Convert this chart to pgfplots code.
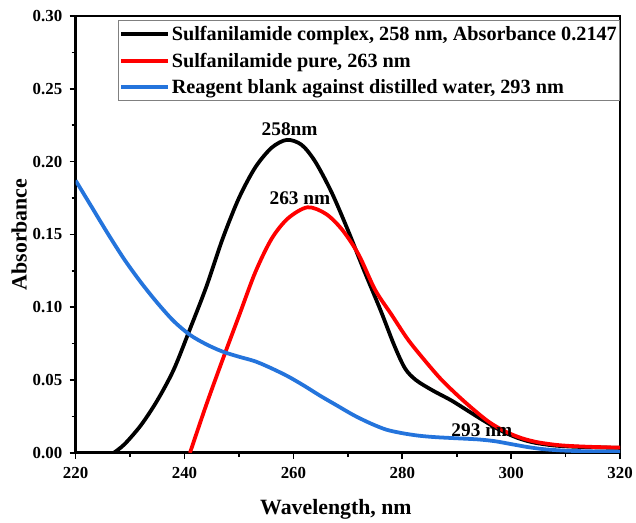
\documentclass[border=0pt]{standalone}
\usepackage{fontspec}
\setmainfont{Liberation Serif}
\usepackage{pgfplots}
\pgfplotsset{compat=1.18}
\definecolor{myblue}{RGB}{36,116,220}
\begin{document}
\begin{tikzpicture}
\begin{axis}[
  scale only axis,
  width=547bp, height=439bp,
  xmin=220, xmax=320, ymin=0, ymax=0.30,
  xtick={220,240,...,320},
  ytick={0,0.05,...,0.30},
  minor tick num=1,
  tick pos=left,
  tick align=outside,
  major tick length=6bp,
  minor tick length=4bp,
  every tick/.style={line width=1.6pt, black},
  axis line style={line width=2.8pt},
  clip=true,
  /pgf/number format/assume math mode=true,
  yticklabel style={/pgf/number format/fixed, /pgf/number format/fixed zerofill, /pgf/number format/precision=2, font=\fontsize{17}{19}\selectfont\bfseries, xshift=-4bp},
  xticklabel style={font=\fontsize{17}{19}\selectfont\bfseries, yshift=-5bp},
  scaled y ticks=false,
  xlabel={Wavelength, nm},
  ylabel={Absorbance},
  label style={font=\fontsize{22}{24}\selectfont\bfseries},
  xlabel style={yshift=-14bp, xshift=-12bp},
  ylabel style={yshift=-1bp},
  legend style={at={(0.993,0.99)}, anchor=north east, xshift=4bp, draw=gray, line width=0.8pt,
    font=\fontsize{20.4}{22}\selectfont\bfseries, legend cell align=left,
    inner xsep=1bp, inner ysep=3.5bp, row sep=7bp},
  legend image code/.code={\draw[#1, line width=3.8pt] (0bp,0bp) -- (47bp,0bp);},
]
\addplot[black, line width=3.8pt, smooth] coordinates {
(227,0) (229,0.006) (232,0.019) (235,0.036) (238,0.057) (241,0.085) (244,0.114)
(247,0.147) (250,0.175) (253,0.196) (256,0.2095) (258.8,0.2149) (261.5,0.2115)
(264,0.200) (267,0.179) (270,0.153) (273,0.125) (276,0.098) (278.5,0.074)
(280.5,0.058) (282.5,0.050) (285.5,0.043) (289,0.036) (292,0.029) (295,0.022)
(298,0.0155) (301,0.0105) (304,0.0072) (308,0.0050) (313,0.0040) (320,0.0034)
};
\addlegendentry{Sulfanilamide complex, 258 nm, Absorbance 0.2147}
\addplot[red, line width=3.8pt, smooth] coordinates {
(241,0) (244,0.033) (247,0.064) (250,0.094) (253,0.124) (256,0.147) (259,0.161)
(262.6,0.1686) (266,0.164) (269,0.153) (272,0.136) (275,0.112) (278,0.095)
(281,0.078) (284,0.064) (287,0.051) (290,0.040) (293,0.030) (296,0.021)
(299,0.0145) (302,0.0100) (305,0.0072) (309,0.0052) (314,0.0042) (320,0.0036)
};
\addlegendentry{Sulfanilamide pure, 263 nm}
\addplot[myblue, line width=3.8pt, smooth] coordinates {
(220,0.187) (223,0.1685) (226,0.150) (229,0.1325) (232,0.117) (235,0.103) (238,0.0905)
(241,0.0810) (244,0.0745) (247,0.0695) (250,0.066) (253,0.0628) (256,0.058)
(259,0.0525) (262,0.046) (265,0.039) (268,0.0325) (271,0.026) (274,0.0205)
(277,0.016) (280,0.0135) (283,0.0118) (286,0.0108) (290,0.0100) (294,0.0092)
(297,0.0080) (300,0.0060) (303,0.0040) (306,0.0025) (310,0.0015) (315,0.0010) (320,0.0008)
};
\addlegendentry{Reagent blank against distilled water, 293 nm}
\node[font=\fontsize{19.5}{22}\selectfont\bfseries] at (axis cs:259.3,0.222) {258nm};
\node[font=\fontsize{19.5}{22}\selectfont\bfseries] at (axis cs:261.2,0.175) {263 nm};
\node[font=\fontsize{19.5}{22}\selectfont\bfseries] at (axis cs:294.6,0.0155) {293 nm};
\end{axis}
\path ([yshift=16bp]current axis.north west);
\path ([xshift=-76bp,yshift=-66bp]current axis.south west);
\path ([xshift=13bp]current axis.south east);
\end{tikzpicture}
\end{document}
